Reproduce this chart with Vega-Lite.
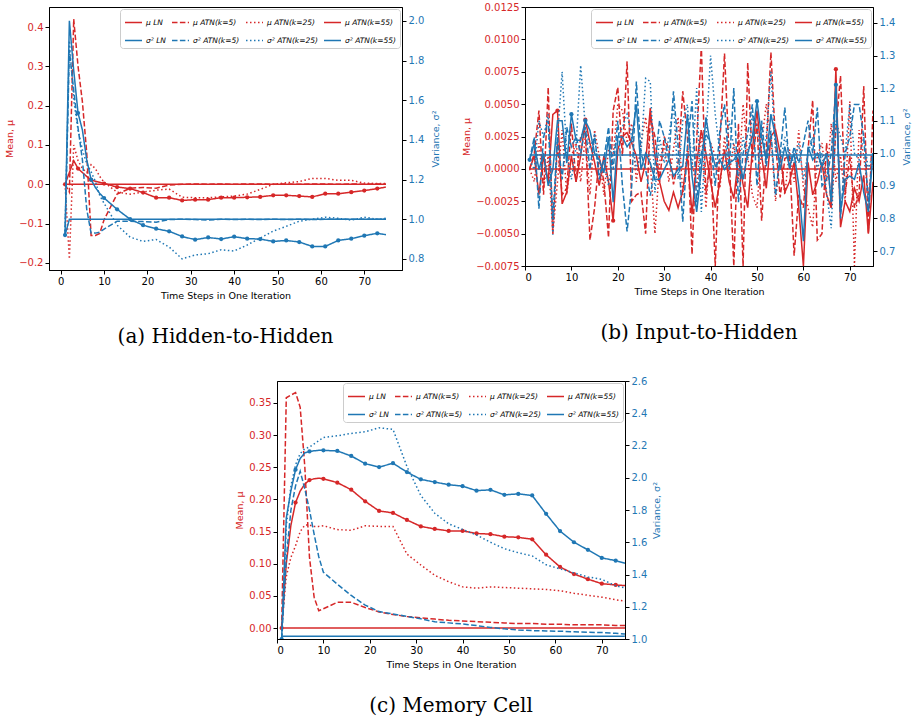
{
"$schema":"https://vega.github.io/schema/vega-lite/v6.json",
"padding":{"left":4,"top":1,"right":2,"bottom":2},
"config":{
 "view":{"stroke":"black","strokeWidth":1},
 "axis":{"grid":false,"labelOverlap":false,"tickCount":20,"labelFont":"DejaVu Sans","labelFontSize":10,"titleFont":"DejaVu Sans","titleFontSize":9.5,"titleFontWeight":"normal","tickColor":"black","domainColor":"black","tickSize":4,"labelPadding":2,"labelColor":"black","titleColor":"black"},
 "legend":{"labelFont":"DejaVu Sans","labelFontSize":7.5,"labelFontStyle":"italic","orient":"top-right","direction":"horizontal","offset":2,"padding":4,"fillColor":"white","strokeColor":"#cccccc","cornerRadius":3,"columns":4,"symbolType":"stroke","symbolSize":289,"symbolStrokeWidth":1.5,"columnPadding":3,"rowPadding":5,"labelOffset":3},
 "title":{"font":"DejaVu Serif","fontSize":20,"fontWeight":"normal","color":"black","orient":"bottom","anchor":"middle","offset":27},
 "concat":{"spacing":21}
},
"datasets":{
"a":[
{"t":1,"m0":0,"m1":0,"m2":0,"m3":0,"v0":0.92,"v1":0.92,"v2":0.92,"v3":0.92},
{"t":2,"m0":0,"m1":-0.02,"m2":-0.19,"m3":0.03,"v0":1.0,"v1":1.85,"v2":1.9,"v3":2.0},
{"t":3,"m0":0,"m1":0.42,"m2":0.10,"m3":0.06,"v0":1.0,"v1":1.65,"v2":1.6,"v3":1.75},
{"t":4,"m0":0,"m1":0.30,"m2":0.06,"m3":0.04,"v0":1.0,"v1":1.46,"v2":1.45,"v3":1.535},
{"t":5,"m0":0,"m1":0.21,"m2":0.04,"m3":0.03,"v0":1.0,"v1":1.3,"v2":1.35,"v3":1.45},
{"t":6,"m0":0,"m1":0.08,"m2":0.03,"m3":0.02,"v0":1.0,"v1":1.05,"v2":1.28,"v3":1.3},
{"t":7,"m0":0,"m1":-0.13,"m2":0.05,"m3":0.011,"v0":1.0,"v1":0.93,"v2":1.24,"v3":1.2},
{"t":8,"m0":0,"m1":-0.13,"m2":0.04,"m3":0.008,"v0":1.0,"v1":0.93,"v2":1.19,"v3":1.16},
{"t":9,"m0":0,"m1":-0.125,"m2":0.02,"m3":0.005,"v0":1.0,"v1":0.935,"v2":1.12,"v3":1.13},
{"t":10,"m0":0,"m1":-0.09,"m2":0.005,"m3":0.002,"v0":1.0,"v1":0.95,"v2":1.08,"v3":1.107},
{"t":13,"m0":0,"m1":-0.025,"m2":-0.02,"m3":-0.007,"v0":1.0,"v1":0.99,"v2":0.97,"v3":1.05},
{"t":16,"m0":0,"m1":-0.01,"m2":-0.025,"m3":-0.011,"v0":1.0,"v1":0.99,"v2":0.91,"v3":1.0},
{"t":19,"m0":0,"m1":-0.008,"m2":-0.02,"m3":-0.021,"v0":1.0,"v1":0.988,"v2":0.888,"v3":0.97},
{"t":22,"m0":0,"m1":-0.01,"m2":-0.015,"m3":-0.034,"v0":1.0,"v1":0.985,"v2":0.898,"v3":0.952},
{"t":25,"m0":0,"m1":-0.002,"m2":-0.012,"m3":-0.034,"v0":1.0,"v1":0.998,"v2":0.86,"v3":0.939},
{"t":28,"m0":0,"m1":0,"m2":-0.033,"m3":-0.041,"v0":1.0,"v1":1.0,"v2":0.80,"v3":0.913},
{"t":31,"m0":0,"m1":0.001,"m2":-0.034,"m3":-0.039,"v0":1.0,"v1":0.998,"v2":0.82,"v3":0.897},
{"t":34,"m0":0,"m1":0,"m2":-0.034,"m3":-0.039,"v0":1.0,"v1":0.996,"v2":0.826,"v3":0.908},
{"t":37,"m0":0,"m1":0.001,"m2":-0.032,"m3":-0.034,"v0":1.0,"v1":1.0,"v2":0.846,"v3":0.90},
{"t":40,"m0":0,"m1":0,"m2":-0.03,"m3":-0.034,"v0":1.0,"v1":0.998,"v2":0.84,"v3":0.912},
{"t":43,"m0":0,"m1":0.001,"m2":-0.025,"m3":-0.033,"v0":1.0,"v1":1.0,"v2":0.87,"v3":0.902},
{"t":46,"m0":0,"m1":0.001,"m2":-0.013,"m3":-0.032,"v0":1.0,"v1":0.998,"v2":0.905,"v3":0.90},
{"t":49,"m0":0,"m1":0,"m2":0.0,"m3":-0.028,"v0":1.0,"v1":1.0,"v2":0.94,"v3":0.888},
{"t":52,"m0":0,"m1":0.001,"m2":0.004,"m3":-0.028,"v0":1.0,"v1":0.998,"v2":0.964,"v3":0.893},
{"t":55,"m0":0,"m1":0,"m2":0.007,"m3":-0.030,"v0":1.0,"v1":1.0,"v2":0.99,"v3":0.885},
{"t":58,"m0":0,"m1":0.001,"m2":0.015,"m3":-0.032,"v0":1.0,"v1":0.998,"v2":1.0,"v3":0.863},
{"t":61,"m0":0,"m1":0.001,"m2":0.015,"m3":-0.024,"v0":1.0,"v1":1.0,"v2":1.01,"v3":0.863},
{"t":64,"m0":0,"m1":0,"m2":0.01,"m3":-0.024,"v0":1.0,"v1":1.0,"v2":1.005,"v3":0.893},
{"t":67,"m0":0,"m1":0.001,"m2":0.01,"m3":-0.02,"v0":1.0,"v1":1.0,"v2":0.995,"v3":0.902},
{"t":70,"m0":0,"m1":0,"m2":0.003,"m3":-0.016,"v0":1.0,"v1":1.0,"v2":1.01,"v3":0.917},
{"t":73,"m0":0,"m1":0.001,"m2":0.002,"m3":-0.011,"v0":1.0,"v1":1.0,"v2":1.0,"v3":0.929},
{"t":75,"m0":0,"m1":0,"m2":0.002,"m3":-0.007,"v0":1.0,"v1":1.0,"v2":1.005,"v3":0.922}
],
"b":[
{"t":1,"m0":0,"m1":0,"m2":0,"m3":0,"v0":0.995,"v1":0.98,"v2":0.98,"v3":0.98},
{"t":2,"m0":0,"m1":0.0012,"m2":-0.001,"m3":0.001,"v0":0.995,"v1":1.05,"v2":0.95,"v3":1.03},
{"t":3,"m0":0,"m1":0.0045,"m2":0.002,"m3":-0.002,"v0":0.995,"v1":0.83,"v2":1.1,"v3":0.95},
{"t":4,"m0":0,"m1":-0.002,"m2":-0.0015,"m3":0.001,"v0":0.995,"v1":1.05,"v2":1.05,"v3":1.0},
{"t":5,"m0":0,"m1":0.0063,"m2":0.001,"m3":-0.001,"v0":0.995,"v1":1.1,"v2":1.12,"v3":0.9},
{"t":6,"m0":0,"m1":-0.005,"m2":-0.005,"m3":0.0042,"v0":0.995,"v1":0.8,"v2":0.75,"v3":0.95},
{"t":7,"m0":0,"m1":0.002,"m2":-0.001,"m3":0.0045,"v0":0.995,"v1":1.05,"v2":1.05,"v3":1.1},
{"t":8,"m0":0,"m1":-0.002,"m2":0.003,"m3":-0.0027,"v0":0.995,"v1":0.92,"v2":1.25,"v3":1.1},
{"t":9,"m0":0,"m1":-0.0015,"m2":-0.002,"m3":-0.0018,"v0":0.995,"v1":1.08,"v2":1.0,"v3":0.97},
{"t":10,"m0":0,"m1":0.0035,"m2":0.001,"m3":0.001,"v0":0.995,"v1":1.02,"v2":0.92,"v3":1.12},
{"t":11,"m0":0,"m1":-0.001,"m2":0.002,"m3":-0.001,"v0":0.995,"v1":1.05,"v2":1.02,"v3":1.04},
{"t":12,"m0":0,"m1":0.0025,"m2":-0.001,"m3":0.001,"v0":0.995,"v1":1.0,"v2":1.27,"v3":1.04},
{"t":13,"m0":0,"m1":0.003,"m2":0.0025,"m3":0.0038,"v0":0.995,"v1":1.08,"v2":1.08,"v3":1.1},
{"t":14,"m0":0,"m1":-0.0055,"m2":-0.002,"m3":0.002,"v0":0.995,"v1":0.95,"v2":1.02,"v3":1.07},
{"t":15,"m0":0,"m1":-0.003,"m2":0.003,"m3":0.0005,"v0":0.995,"v1":1.06,"v2":1.05,"v3":1.0},
{"t":16,"m0":0,"m1":0.001,"m2":0.001,"m3":-0.0013,"v0":0.995,"v1":0.92,"v2":0.93,"v3":0.98},
{"t":17,"m0":0,"m1":-0.001,"m2":-0.002,"m3":0.001,"v0":0.995,"v1":0.98,"v2":0.98,"v3":0.94},
{"t":18,"m0":0,"m1":-0.0053,"m2":0.0015,"m3":-0.001,"v0":0.995,"v1":1.08,"v2":0.9,"v3":1.05},
{"t":19,"m0":0,"m1":0.0045,"m2":0.001,"m3":-0.004,"v0":0.995,"v1":0.95,"v2":1.0,"v3":0.85},
{"t":20,"m0":0,"m1":0.0063,"m2":0.005,"m3":0.0015,"v0":0.995,"v1":1.1,"v2":1.05,"v3":1.05},
{"t":21,"m0":0,"m1":0.001,"m2":0.0045,"m3":0.0025,"v0":0.995,"v1":0.9,"v2":1.08,"v3":1.05},
{"t":22,"m0":0,"m1":0.0083,"m2":0.002,"m3":0.0028,"v0":0.995,"v1":0.76,"v2":1.12,"v3":1.02},
{"t":23,"m0":0,"m1":-0.0025,"m2":0.0035,"m3":0.002,"v0":0.995,"v1":0.9,"v2":1.05,"v3":1.04},
{"t":24,"m0":0,"m1":-0.002,"m2":-0.001,"m3":0.001,"v0":0.995,"v1":1.22,"v2":0.95,"v3":1.15},
{"t":25,"m0":0,"m1":-0.0018,"m2":0.002,"m3":-0.001,"v0":0.995,"v1":1.0,"v2":1.0,"v3":0.95},
{"t":26,"m0":0,"m1":-0.005,"m2":0.004,"m3":0.0005,"v0":0.995,"v1":0.95,"v2":1.23,"v3":1.0},
{"t":27,"m0":0,"m1":0.004,"m2":0.0005,"m3":0.0047,"v0":0.995,"v1":0.87,"v2":1.22,"v3":0.97},
{"t":28,"m0":0,"m1":0.0025,"m2":-0.005,"m3":0.001,"v0":0.995,"v1":0.96,"v2":0.88,"v3":0.92},
{"t":29,"m0":0,"m1":-0.001,"m2":0.0005,"m3":-0.001,"v0":0.995,"v1":1.1,"v2":1.05,"v3":0.92},
{"t":30,"m0":0,"m1":0.0025,"m2":0.002,"m3":-0.0025,"v0":0.995,"v1":1.05,"v2":0.97,"v3":0.95},
{"t":31,"m0":0,"m1":0.0015,"m2":-0.001,"m3":-0.0032,"v0":0.995,"v1":0.98,"v2":1.05,"v3":0.98},
{"t":32,"m0":0,"m1":-0.0012,"m2":0.0015,"m3":-0.0018,"v0":0.995,"v1":1.19,"v2":1.15,"v3":0.93},
{"t":33,"m0":0,"m1":0.0005,"m2":0.004,"m3":-0.003,"v0":0.995,"v1":1.02,"v2":0.92,"v3":0.95},
{"t":34,"m0":0,"m1":0.006,"m2":-0.002,"m3":-0.0017,"v0":0.995,"v1":0.79,"v2":1.1,"v3":0.96},
{"t":35,"m0":0,"m1":0.0025,"m2":0.0015,"m3":0.001,"v0":0.995,"v1":1.02,"v2":1.15,"v3":1.12},
{"t":36,"m0":0,"m1":-0.0066,"m2":0.0005,"m3":-0.0035,"v0":0.995,"v1":1.16,"v2":0.95,"v3":0.93},
{"t":37,"m0":0,"m1":0.0022,"m2":-0.0015,"m3":0.0005,"v0":0.995,"v1":0.85,"v2":1.2,"v3":0.82},
{"t":38,"m0":0,"m1":0.0095,"m2":0.003,"m3":0.003,"v0":0.995,"v1":1.0,"v2":0.82,"v3":0.95},
{"t":39,"m0":0,"m1":-0.002,"m2":-0.003,"m3":0.0012,"v0":0.995,"v1":1.06,"v2":1.05,"v3":1.11},
{"t":40,"m0":0,"m1":0.001,"m2":0.002,"m3":-0.001,"v0":0.995,"v1":1.03,"v2":1.3,"v3":1.02},
{"t":41,"m0":0,"m1":-0.0075,"m2":0.001,"m3":-0.003,"v0":0.995,"v1":0.9,"v2":1.12,"v3":0.96},
{"t":42,"m0":0,"m1":0.002,"m2":-0.0015,"m3":-0.001,"v0":0.995,"v1":1.07,"v2":1.0,"v3":0.98},
{"t":43,"m0":0,"m1":0.0089,"m2":0.0025,"m3":0.0015,"v0":0.995,"v1":1.15,"v2":0.95,"v3":0.95},
{"t":44,"m0":0,"m1":0.001,"m2":-0.0005,"m3":-0.001,"v0":0.995,"v1":0.95,"v2":1.1,"v3":0.97},
{"t":45,"m0":0,"m1":-0.0075,"m2":0.002,"m3":-0.0023,"v0":0.995,"v1":1.2,"v2":1.02,"v3":0.98},
{"t":46,"m0":0,"m1":0.0035,"m2":-0.001,"m3":0.0008,"v0":0.995,"v1":0.85,"v2":0.93,"v3":1.0},
{"t":47,"m0":0,"m1":-0.0075,"m2":0.005,"m3":-0.0012,"v0":0.995,"v1":1.0,"v2":1.05,"v3":0.92},
{"t":48,"m0":0,"m1":0.0082,"m2":0.001,"m3":-0.003,"v0":0.995,"v1":1.06,"v2":0.98,"v3":1.0},
{"t":49,"m0":0,"m1":0.0005,"m2":-0.002,"m3":0.0015,"v0":0.995,"v1":1.15,"v2":1.12,"v3":1.05},
{"t":50,"m0":0,"m1":0.0035,"m2":-0.003,"m3":0.0045,"v0":0.995,"v1":0.9,"v2":1.08,"v3":1.16},
{"t":51,"m0":0,"m1":-0.004,"m2":0.002,"m3":0.001,"v0":0.995,"v1":1.1,"v2":0.98,"v3":1.05},
{"t":52,"m0":0,"m1":0.0015,"m2":0.005,"m3":-0.0015,"v0":0.995,"v1":0.96,"v2":1.05,"v3":0.98},
{"t":53,"m0":0,"m1":0.009,"m2":0.0025,"m3":0.0025,"v0":0.995,"v1":1.07,"v2":1.25,"v3":1.12},
{"t":54,"m0":0,"m1":0.002,"m2":-0.0025,"m3":0.003,"v0":0.995,"v1":0.87,"v2":1.0,"v3":1.05},
{"t":55,"m0":0,"m1":-0.0022,"m2":0.001,"m3":0.0012,"v0":0.995,"v1":1.0,"v2":0.97,"v3":0.95},
{"t":56,"m0":0,"m1":0.0008,"m2":-0.002,"m3":-0.0018,"v0":0.995,"v1":1.14,"v2":1.05,"v3":1.02},
{"t":57,"m0":0,"m1":0.001,"m2":0.0015,"m3":-0.001,"v0":0.995,"v1":0.95,"v2":1.0,"v3":0.96},
{"t":58,"m0":0,"m1":-0.0067,"m2":-0.001,"m3":0.0005,"v0":0.995,"v1":1.02,"v2":0.97,"v3":1.0},
{"t":59,"m0":0,"m1":-0.002,"m2":0.003,"m3":-0.003,"v0":0.995,"v1":0.97,"v2":1.03,"v3":0.9},
{"t":60,"m0":0,"m1":-0.003,"m2":-0.0015,"m3":-0.0075,"v0":0.995,"v1":1.03,"v2":0.92,"v3":0.73},
{"t":61,"m0":0,"m1":0.0015,"m2":-0.003,"m3":0.0005,"v0":0.995,"v1":1.1,"v2":1.0,"v3":1.02},
{"t":62,"m0":0,"m1":0.0053,"m2":-0.0045,"m3":-0.002,"v0":0.995,"v1":1.0,"v2":1.05,"v3":0.98},
{"t":63,"m0":0,"m1":-0.0055,"m2":0.001,"m3":-0.001,"v0":0.995,"v1":1.14,"v2":0.95,"v3":1.0},
{"t":64,"m0":0,"m1":-0.005,"m2":0.002,"m3":0.0005,"v0":0.995,"v1":0.9,"v2":1.0,"v3":0.96},
{"t":65,"m0":0,"m1":0.002,"m2":-0.001,"m3":-0.002,"v0":0.995,"v1":0.92,"v2":0.88,"v3":1.0},
{"t":66,"m0":0,"m1":-0.003,"m2":0.0035,"m3":-0.003,"v0":0.995,"v1":1.0,"v2":0.77,"v3":0.85},
{"t":67,"m0":0,"m1":0.003,"m2":-0.001,"m3":0.0077,"v0":0.995,"v1":1.2,"v2":1.1,"v3":1.21},
{"t":68,"m0":0,"m1":0.0072,"m2":0.001,"m3":-0.0045,"v0":0.995,"v1":0.8,"v2":1.05,"v3":0.82},
{"t":69,"m0":0,"m1":-0.002,"m2":-0.0025,"m3":-0.0025,"v0":0.995,"v1":1.0,"v2":1.0,"v3":0.92},
{"t":70,"m0":0,"m1":0.001,"m2":0.0052,"m3":-0.0033,"v0":0.995,"v1":1.05,"v2":1.15,"v3":0.93},
{"t":71,"m0":0,"m1":-0.003,"m2":-0.0075,"m3":-0.0015,"v0":0.995,"v1":1.15,"v2":1.0,"v3":0.92},
{"t":72,"m0":0,"m1":-0.002,"m2":0.003,"m3":-0.0025,"v0":0.995,"v1":1.15,"v2":0.98,"v3":0.97},
{"t":73,"m0":0,"m1":0.0064,"m2":0.001,"m3":-0.0005,"v0":0.995,"v1":1.05,"v2":1.05,"v3":0.88},
{"t":74,"m0":0,"m1":-0.005,"m2":-0.002,"m3":-0.005,"v0":0.995,"v1":0.85,"v2":0.95,"v3":0.82},
{"t":75,"m0":0,"m1":0.0045,"m2":0.001,"m3":-0.001,"v0":0.995,"v1":1.0,"v2":1.0,"v3":1.0}
],
"c":[
{"t":1,"m0":0,"m1":0,"m2":0,"m3":0,"v0":1.017,"v1":1.0,"v2":1.0,"v3":1.0},
{"t":2,"m0":0,"m1":0.358,"m2":0.08,"m3":0.10,"v0":1.017,"v1":1.5,"v2":1.7,"v3":1.75},
{"t":3,"m0":0,"m1":0.362,"m2":0.11,"m3":0.16,"v0":1.017,"v1":1.8,"v2":1.95,"v3":1.92},
{"t":4,"m0":0,"m1":0.366,"m2":0.128,"m3":0.195,"v0":1.017,"v1":1.95,"v2":2.08,"v3":2.05},
{"t":5,"m0":0,"m1":0.343,"m2":0.15,"m3":0.213,"v0":1.017,"v1":2.04,"v2":2.15,"v3":2.12},
{"t":6,"m0":0,"m1":0.25,"m2":0.16,"m3":0.224,"v0":1.017,"v1":1.93,"v2":2.18,"v3":2.155},
{"t":7,"m0":0,"m1":0.11,"m2":0.16,"m3":0.230,"v0":1.017,"v1":1.80,"v2":2.19,"v3":2.163},
{"t":8,"m0":0,"m1":0.048,"m2":0.158,"m3":0.232,"v0":1.017,"v1":1.65,"v2":2.21,"v3":2.167},
{"t":9,"m0":0,"m1":0.027,"m2":0.158,"m3":0.233,"v0":1.017,"v1":1.51,"v2":2.23,"v3":2.17},
{"t":10,"m0":0,"m1":0.03,"m2":0.159,"m3":0.232,"v0":1.017,"v1":1.414,"v2":2.25,"v3":2.17},
{"t":13,"m0":0,"m1":0.04,"m2":0.153,"m3":0.226,"v0":1.017,"v1":1.34,"v2":2.26,"v3":2.166},
{"t":16,"m0":0,"m1":0.04,"m2":0.152,"m3":0.215,"v0":1.017,"v1":1.27,"v2":2.275,"v3":2.135},
{"t":19,"m0":0,"m1":0.032,"m2":0.159,"m3":0.197,"v0":1.017,"v1":1.21,"v2":2.285,"v3":2.087},
{"t":22,"m0":0,"m1":0.025,"m2":0.158,"m3":0.182,"v0":1.017,"v1":1.17,"v2":2.31,"v3":2.066},
{"t":25,"m0":0,"m1":0.021,"m2":0.158,"m3":0.179,"v0":1.017,"v1":1.155,"v2":2.30,"v3":2.09},
{"t":28,"m0":0,"m1":0.018,"m2":0.115,"m3":0.168,"v0":1.017,"v1":1.14,"v2":2.07,"v3":2.035},
{"t":31,"m0":0,"m1":0.016,"m2":0.098,"m3":0.158,"v0":1.017,"v1":1.125,"v2":1.89,"v3":1.99},
{"t":34,"m0":0,"m1":0.014,"m2":0.082,"m3":0.154,"v0":1.017,"v1":1.107,"v2":1.78,"v3":1.973},
{"t":37,"m0":0,"m1":0.012,"m2":0.072,"m3":0.151,"v0":1.017,"v1":1.10,"v2":1.714,"v3":1.957},
{"t":40,"m0":0,"m1":0.011,"m2":0.064,"m3":0.151,"v0":1.017,"v1":1.093,"v2":1.68,"v3":1.948},
{"t":43,"m0":0,"m1":0.01,"m2":0.062,"m3":0.147,"v0":1.017,"v1":1.083,"v2":1.645,"v3":1.92},
{"t":46,"m0":0,"m1":0.009,"m2":0.064,"m3":0.146,"v0":1.017,"v1":1.072,"v2":1.60,"v3":1.925},
{"t":49,"m0":0,"m1":0.008,"m2":0.063,"m3":0.142,"v0":1.017,"v1":1.063,"v2":1.56,"v3":1.894},
{"t":52,"m0":0,"m1":0.007,"m2":0.062,"m3":0.141,"v0":1.017,"v1":1.056,"v2":1.535,"v3":1.90},
{"t":55,"m0":0,"m1":0.007,"m2":0.061,"m3":0.138,"v0":1.017,"v1":1.052,"v2":1.515,"v3":1.89},
{"t":58,"m0":0,"m1":0.006,"m2":0.06,"m3":0.114,"v0":1.017,"v1":1.05,"v2":1.46,"v3":1.776},
{"t":61,"m0":0,"m1":0.006,"m2":0.058,"m3":0.095,"v0":1.017,"v1":1.048,"v2":1.435,"v3":1.669},
{"t":64,"m0":0,"m1":0.005,"m2":0.054,"m3":0.084,"v0":1.017,"v1":1.045,"v2":1.41,"v3":1.60},
{"t":67,"m0":0,"m1":0.005,"m2":0.051,"m3":0.076,"v0":1.017,"v1":1.042,"v2":1.385,"v3":1.553},
{"t":70,"m0":0,"m1":0.005,"m2":0.048,"m3":0.069,"v0":1.017,"v1":1.04,"v2":1.37,"v3":1.503},
{"t":73,"m0":0,"m1":0.004,"m2":0.044,"m3":0.067,"v0":1.017,"v1":1.035,"v2":1.33,"v3":1.486},
{"t":75,"m0":0,"m1":0.004,"m2":0.042,"m3":0.066,"v0":1.017,"v1":1.031,"v2":1.317,"v3":1.47}
]
},
"resolve":{"scale":{"color":"independent","strokeDash":"independent","x":"independent","y":"independent"},"legend":{"color":"independent","strokeDash":"independent"}},
"vconcat":[
{
 "resolve":{"scale":{"color":"independent","strokeDash":"independent","x":"independent","y":"independent"},"legend":{"color":"independent","strokeDash":"independent"}},
 "hconcat":[
 {
  "data":{"name":"a"},
  "width":353,"height":263,
  "title":{"text":"(a) Hidden-to-Hidden"},
  "transform":[{"fold":["m0","m1","m2","m3","v0","v1","v2","v3"],"as":["s","val"]}],
  "encoding":{"x":{"field":"t","type":"quantitative","scale":{"domain":[-2.7,78.7],"nice":false,"zero":false},"axis":{"values":[0,10,20,30,40,50,60,70],"title":"Time Steps in One Iteration"}}},
  "resolve":{"scale":{"y":"independent"}},
  "layer":[
   {"layer":[
    {"transform":[{"filter":"substring(datum.s,0,1)=='m'"}],
     "mark":{"type":"line","strokeWidth":1.5,"clip":true},
     "encoding":{
      "y":{"field":"val","type":"quantitative","scale":{"domain":[-0.218,0.451],"nice":false,"zero":false},"axis":{"orient":"left","values":[-0.2,-0.1,0,0.1,0.2,0.3,0.4],"format":".1f","title":"Mean, μ","labelColor":"#d62728","titleColor":"#d62728"}},
      "color":{"field":"s","type":"nominal","scale":{"domain":["m0","m1","m2","m3","v0","v1","v2","v3"],"range":["#d62728","#d62728","#d62728","#d62728","#1f77b4","#1f77b4","#1f77b4","#1f77b4"]},"legend":{"title":null,"labelExpr":"datum.label=='m0'?'μ LN':datum.label=='m1'?'μ ATN(k=5)':datum.label=='m2'?'μ ATN(k=25)':datum.label=='m3'?'μ ATN(k=55)':datum.label=='v0'?'σ² LN':datum.label=='v1'?'σ² ATN(k=5)':datum.label=='v2'?'σ² ATN(k=25)':'σ² ATN(k=55)'"}},
      "strokeDash":{"field":"s","type":"nominal","scale":{"domain":["m0","m1","m2","m3","v0","v1","v2","v3"],"range":[[1,0],[5.5,2.4],[1.5,2.5],[1,0],[1,0],[5.5,2.4],[1.5,2.5],[1,0]]},"legend":{"title":null,"labelExpr":"datum.label=='m0'?'μ LN':datum.label=='m1'?'μ ATN(k=5)':datum.label=='m2'?'μ ATN(k=25)':datum.label=='m3'?'μ ATN(k=55)':datum.label=='v0'?'σ² LN':datum.label=='v1'?'σ² ATN(k=5)':datum.label=='v2'?'σ² ATN(k=25)':'σ² ATN(k=55)'"}}
     }},
    {"transform":[{"filter":"datum.s=='m3' && datum.t%3==1"}],
     "mark":{"type":"point","filled":true,"size":18,"opacity":1,"color":"#d62728","clip":true},
     "encoding":{"y":{"field":"val","type":"quantitative"}}}
   ]},
   {"layer":[
    {"transform":[{"filter":"substring(datum.s,0,1)=='v'"}],
     "mark":{"type":"line","strokeWidth":1.5,"clip":true},
     "encoding":{
      "y":{"field":"val","type":"quantitative","scale":{"domain":[0.744,2.07],"nice":false,"zero":false},"axis":{"orient":"right","values":[0.8,1.0,1.2,1.4,1.6,1.8,2.0],"format":".1f","title":"Variance, σ²","titleAngle":270,"titleBaseline":"top","titleX":28,"labelColor":"#1f77b4","titleColor":"#1f77b4"}},
      "color":{"field":"s","type":"nominal"},
      "strokeDash":{"field":"s","type":"nominal"}
     }},
    {"transform":[{"filter":"datum.s=='v3' && datum.t%3==1"}],
     "mark":{"type":"point","filled":true,"size":18,"opacity":1,"color":"#1f77b4","clip":true},
     "encoding":{"y":{"field":"val","type":"quantitative"}}}
   ]}
  ]
 },
 {
  "data":{"name":"b"},
  "width":348,"height":259,
  "title":{"text":"(b) Input-to-Hidden"},
  "transform":[{"fold":["m0","m1","m2","m3","v0","v1","v2","v3"],"as":["s","val"]}],
  "encoding":{"x":{"field":"t","type":"quantitative","scale":{"domain":[0,75],"nice":false,"zero":false},"axis":{"values":[0,10,20,30,40,50,60,70],"title":"Time Steps in One Iteration"}}},
  "resolve":{"scale":{"y":"independent"}},
  "layer":[
   {"layer":[
    {"transform":[{"filter":"substring(datum.s,0,1)=='m'"}],
     "mark":{"type":"line","strokeWidth":1.5,"clip":true},
     "encoding":{
      "y":{"field":"val","type":"quantitative","scale":{"domain":[-0.0075,0.0125],"nice":false,"zero":false},"axis":{"orient":"left","values":[-0.0075,-0.005,-0.0025,0,0.0025,0.005,0.0075,0.01,0.0125],"format":".4f","title":"Mean, μ","labelColor":"#d62728","titleColor":"#d62728"}},
      "color":{"field":"s","type":"nominal","scale":{"domain":["m0","m1","m2","m3","v0","v1","v2","v3"],"range":["#d62728","#d62728","#d62728","#d62728","#1f77b4","#1f77b4","#1f77b4","#1f77b4"]},"legend":{"title":null,"labelExpr":"datum.label=='m0'?'μ LN':datum.label=='m1'?'μ ATN(k=5)':datum.label=='m2'?'μ ATN(k=25)':datum.label=='m3'?'μ ATN(k=55)':datum.label=='v0'?'σ² LN':datum.label=='v1'?'σ² ATN(k=5)':datum.label=='v2'?'σ² ATN(k=25)':'σ² ATN(k=55)'"}},
      "strokeDash":{"field":"s","type":"nominal","scale":{"domain":["m0","m1","m2","m3","v0","v1","v2","v3"],"range":[[1,0],[5.5,2.4],[1.5,2.5],[1,0],[1,0],[5.5,2.4],[1.5,2.5],[1,0]]},"legend":{"title":null,"labelExpr":"datum.label=='m0'?'μ LN':datum.label=='m1'?'μ ATN(k=5)':datum.label=='m2'?'μ ATN(k=25)':datum.label=='m3'?'μ ATN(k=55)':datum.label=='v0'?'σ² LN':datum.label=='v1'?'σ² ATN(k=5)':datum.label=='v2'?'σ² ATN(k=25)':'σ² ATN(k=55)'"}}
     }},
    {"transform":[{"filter":"datum.s=='m3' && (datum.t==7 || datum.t==13 || datum.t==19 || datum.t==67)"}],
     "mark":{"type":"point","filled":true,"size":18,"opacity":1,"color":"#d62728","clip":true},
     "encoding":{"y":{"field":"val","type":"quantitative"}}}
   ]},
   {"layer":[
    {"transform":[{"filter":"substring(datum.s,0,1)=='v'"}],
     "mark":{"type":"line","strokeWidth":1.5,"clip":true},
     "encoding":{
      "y":{"field":"val","type":"quantitative","scale":{"domain":[0.654,1.449],"nice":false,"zero":false},"axis":{"orient":"right","values":[0.7,0.8,0.9,1.0,1.1,1.2,1.3,1.4],"format":".1f","title":"Variance, σ²","titleAngle":270,"titleBaseline":"top","titleX":28,"labelColor":"#1f77b4","titleColor":"#1f77b4"}},
      "color":{"field":"s","type":"nominal"},
      "strokeDash":{"field":"s","type":"nominal"}
     }},
    {"transform":[{"filter":"datum.s=='v3' && (datum.t==1 || datum.t==10 || datum.t==13 || datum.t==50 || datum.t==67)"}],
     "mark":{"type":"point","filled":true,"size":18,"opacity":1,"color":"#1f77b4","clip":true},
     "encoding":{"y":{"field":"val","type":"quantitative"}}}
   ]}
  ]
 }
 ]
},
{
 "spacing":0,
 "resolve":{"scale":{"color":"independent","strokeDash":"independent","x":"independent","y":"independent"},"legend":{"color":"independent","strokeDash":"independent"}},
 "hconcat":[
 {
  "data":{"name":"c"},
  "width":348,"height":258,
  "title":{"text":"(c) Memory Cell"},
  "transform":[{"fold":["m0","m1","m2","m3","v0","v1","v2","v3"],"as":["s","val"]}],
  "encoding":{"x":{"field":"t","type":"quantitative","scale":{"domain":[0,75],"nice":false,"zero":false},"axis":{"values":[0,10,20,30,40,50,60,70],"title":"Time Steps in One Iteration"}}},
  "resolve":{"scale":{"y":"independent"}},
  "layer":[
   {"layer":[
    {"transform":[{"filter":"substring(datum.s,0,1)=='m'"}],
     "mark":{"type":"line","strokeWidth":1.5,"clip":true},
     "encoding":{
      "y":{"field":"val","type":"quantitative","scale":{"domain":[-0.017,0.384],"nice":false,"zero":false},"axis":{"orient":"left","values":[0,0.05,0.1,0.15,0.2,0.25,0.3,0.35],"format":".2f","title":"Mean, μ","labelColor":"#d62728","titleColor":"#d62728"}},
      "color":{"field":"s","type":"nominal","scale":{"domain":["m0","m1","m2","m3","v0","v1","v2","v3"],"range":["#d62728","#d62728","#d62728","#d62728","#1f77b4","#1f77b4","#1f77b4","#1f77b4"]},"legend":{"title":null,"labelExpr":"datum.label=='m0'?'μ LN':datum.label=='m1'?'μ ATN(k=5)':datum.label=='m2'?'μ ATN(k=25)':datum.label=='m3'?'μ ATN(k=55)':datum.label=='v0'?'σ² LN':datum.label=='v1'?'σ² ATN(k=5)':datum.label=='v2'?'σ² ATN(k=25)':'σ² ATN(k=55)'"}},
      "strokeDash":{"field":"s","type":"nominal","scale":{"domain":["m0","m1","m2","m3","v0","v1","v2","v3"],"range":[[1,0],[5.5,2.4],[1.5,2.5],[1,0],[1,0],[5.5,2.4],[1.5,2.5],[1,0]]},"legend":{"title":null,"labelExpr":"datum.label=='m0'?'μ LN':datum.label=='m1'?'μ ATN(k=5)':datum.label=='m2'?'μ ATN(k=25)':datum.label=='m3'?'μ ATN(k=55)':datum.label=='v0'?'σ² LN':datum.label=='v1'?'σ² ATN(k=5)':datum.label=='v2'?'σ² ATN(k=25)':'σ² ATN(k=55)'"}}
     }},
    {"transform":[{"filter":"datum.s=='m3' && datum.t%3==1"}],
     "mark":{"type":"point","filled":true,"size":18,"opacity":1,"color":"#d62728","clip":true},
     "encoding":{"y":{"field":"val","type":"quantitative"}}}
   ]},
   {"layer":[
    {"transform":[{"filter":"substring(datum.s,0,1)=='v'"}],
     "mark":{"type":"line","strokeWidth":1.5,"clip":true},
     "encoding":{
      "y":{"field":"val","type":"quantitative","scale":{"domain":[1.0,2.6],"nice":false,"zero":false},"axis":{"orient":"right","values":[1.0,1.2,1.4,1.6,1.8,2.0,2.2,2.4,2.6],"format":".1f","title":"Variance, σ²","titleAngle":270,"titleBaseline":"top","titleX":26,"labelColor":"#1f77b4","titleColor":"#1f77b4"}},
      "color":{"field":"s","type":"nominal"},
      "strokeDash":{"field":"s","type":"nominal"}
     }},
    {"transform":[{"filter":"datum.s=='v3' && datum.t%3==1"}],
     "mark":{"type":"point","filled":true,"size":18,"opacity":1,"color":"#1f77b4","clip":true},
     "encoding":{"y":{"field":"val","type":"quantitative"}}}
   ]}
  ]
 },
 {
  "width":22,"height":258,
  "view":{"stroke":null},
  "data":{"values":[{"t":0}]},
  "mark":{"type":"text","text":""},
  "encoding":{}
 }
 ]
}
],
"center":true,
"spacing":28
}
